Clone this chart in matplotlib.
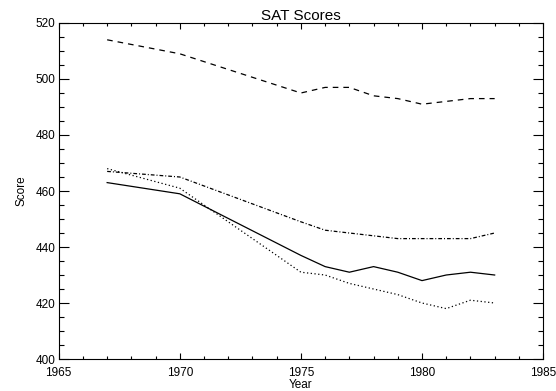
import numpy as np
import matplotlib
matplotlib.use("Agg")
import matplotlib.pyplot as plt
from matplotlib.ticker import MultipleLocator

# anos e medias do SAT
years = [1967, 1970, 1975, 1976, 1977, 1978, 1979, 1980, 1981, 1982, 1983]
verbal_male = [463, 459, 437, 433, 431, 433, 431, 428, 430, 431, 430]
math_male = [514, 509, 495, 497, 497, 494, 493, 491, 492, 493, 493]
verbal_female = [468, 461, 431, 430, 427, 425, 423, 420, 418, 421, 420]
math_female = [467, 465, 449, 446, 445, 444, 443, 443, 443, 443, 445]

plt.rcParams['font.family'] = ['Liberation Sans', 'DejaVu Sans']

fig = plt.figure(figsize=(5.56, 3.91), dpi=100)
ax = fig.add_axes([0.1056, 0.0818, 0.8712, 0.8594])

ax.plot(years, verbal_male, color='black', lw=0.9, linestyle='-')
ax.plot(years, math_male, color='black', lw=0.9, linestyle=(0, (4.5, 4)))
ax.plot(years, verbal_female, color='black', lw=0.9, linestyle=(0, (1, 2)))
ax.plot(years, math_female, color='black', lw=0.9, linestyle=(0, (3, 1.6, 0.8, 1.6)))

ax.set_xlim(1965, 1985)
ax.set_ylim(400, 520)
ax.xaxis.set_major_locator(MultipleLocator(5))
ax.xaxis.set_minor_locator(MultipleLocator(1))
ax.yaxis.set_major_locator(MultipleLocator(20))
ax.yaxis.set_minor_locator(MultipleLocator(5))

# ticks para dentro nos quatro lados, como no IDL
ax.tick_params(axis='both', which='both', direction='in', top=True, right=True,
               colors='black', labelsize=8.5, width=0.8)
ax.tick_params(axis='x', which='major', length=4.3, pad=5.5)
ax.tick_params(axis='x', which='minor', length=2.2)
ax.tick_params(axis='y', which='major', length=7, pad=2.5)
ax.tick_params(axis='y', which='minor', length=3.8)

for s in ax.spines.values():
    s.set_linewidth(0.8)

ax.set_title('SAT Scores', fontsize=11, pad=2)
ax.set_xlabel('Year', fontsize=8.5, labelpad=0)
ax.set_ylabel('Score', fontsize=8.5, labelpad=6)

fig.savefig('out.png', dpi=100)
